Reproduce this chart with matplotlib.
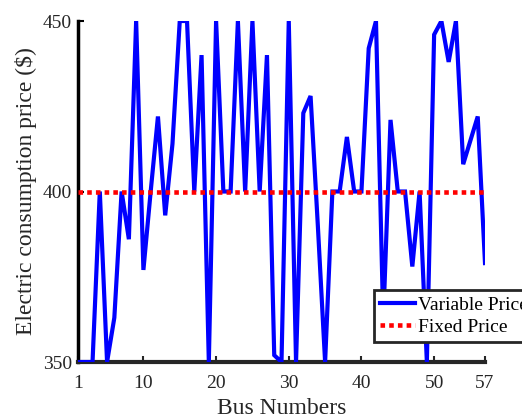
import matplotlib
matplotlib.use("Agg")
import matplotlib.pyplot as plt

bus_numbers = list(range(1, 58))
variable_price = [350, 350, 350, 400, 350, 363, 400, 386, 450, 377,
                  400, 422, 393, 414, 450, 450, 400, 440, 350, 450,
                  400, 400, 450, 400, 450, 400, 440, 352, 350, 450,
                  350, 423, 428, 390, 350, 400, 400, 416, 400, 400,
                  442, 450, 362, 421, 400, 400, 378, 400, 350, 446,
                  450, 438, 450, 408, 415, 422, 379]
fixed_price = [400] * 57
x_ticks = [1, 10, 20, 30, 40, 50, 57]
y_ticks = [350, 400, 450]

plt.rcParams['font.family'] = ['Liberation Serif', 'DejaVu Serif']

fig = plt.figure(figsize=(5.22, 4.19), dpi=100)
ax = fig.add_axes([78/522, 1-362/419, (485-78)/522, (362-21)/419])

ax.plot(bus_numbers, variable_price, color='#0000ff', lw=3.0, label='Variable Price',
        solid_joinstyle='miter', zorder=3)
ax.plot(bus_numbers, fixed_price, color='#ff0000', lw=3.3, dashes=(1, 0.9),
        label='Fixed Price', zorder=4)

ax.set_xlim(1, 57)
ax.set_ylim(350, 450)
ax.set_xticks(x_ticks)
ax.set_yticks(y_ticks)
ax.tick_params(direction='in', length=4, width=1.5, labelsize=14,
               colors='#262626')
ax.tick_params(axis='x', pad=9)
ax.tick_params(axis='y', colors='black', labelcolor='#262626', pad=4.5)
for s in ['top', 'right']:
    ax.spines[s].set_visible(False)
ax.spines['left'].set_linewidth(2.5)
ax.spines['left'].set_color('black')
ax.spines['bottom'].set_linewidth(3)
ax.spines['bottom'].set_color('#262626')

ax.set_xlabel('Bus Numbers', fontsize=17, color='#262626', labelpad=5)
ax.set_ylabel('Electric consumption price ($)', fontsize=17, color='#262626', labelpad=4)

leg = ax.legend(loc='lower left', bbox_to_anchor=(0.727, 0.059), fontsize=14,
                fancybox=False, framealpha=1, edgecolor='#262626',
                borderpad=0.3, handlelength=1.8, handletextpad=0.15,
                labelspacing=0.25, borderaxespad=0)
leg.get_frame().set_linewidth(2)
leg.set_clip_on(False)

fig.savefig('out.png', dpi=100)
